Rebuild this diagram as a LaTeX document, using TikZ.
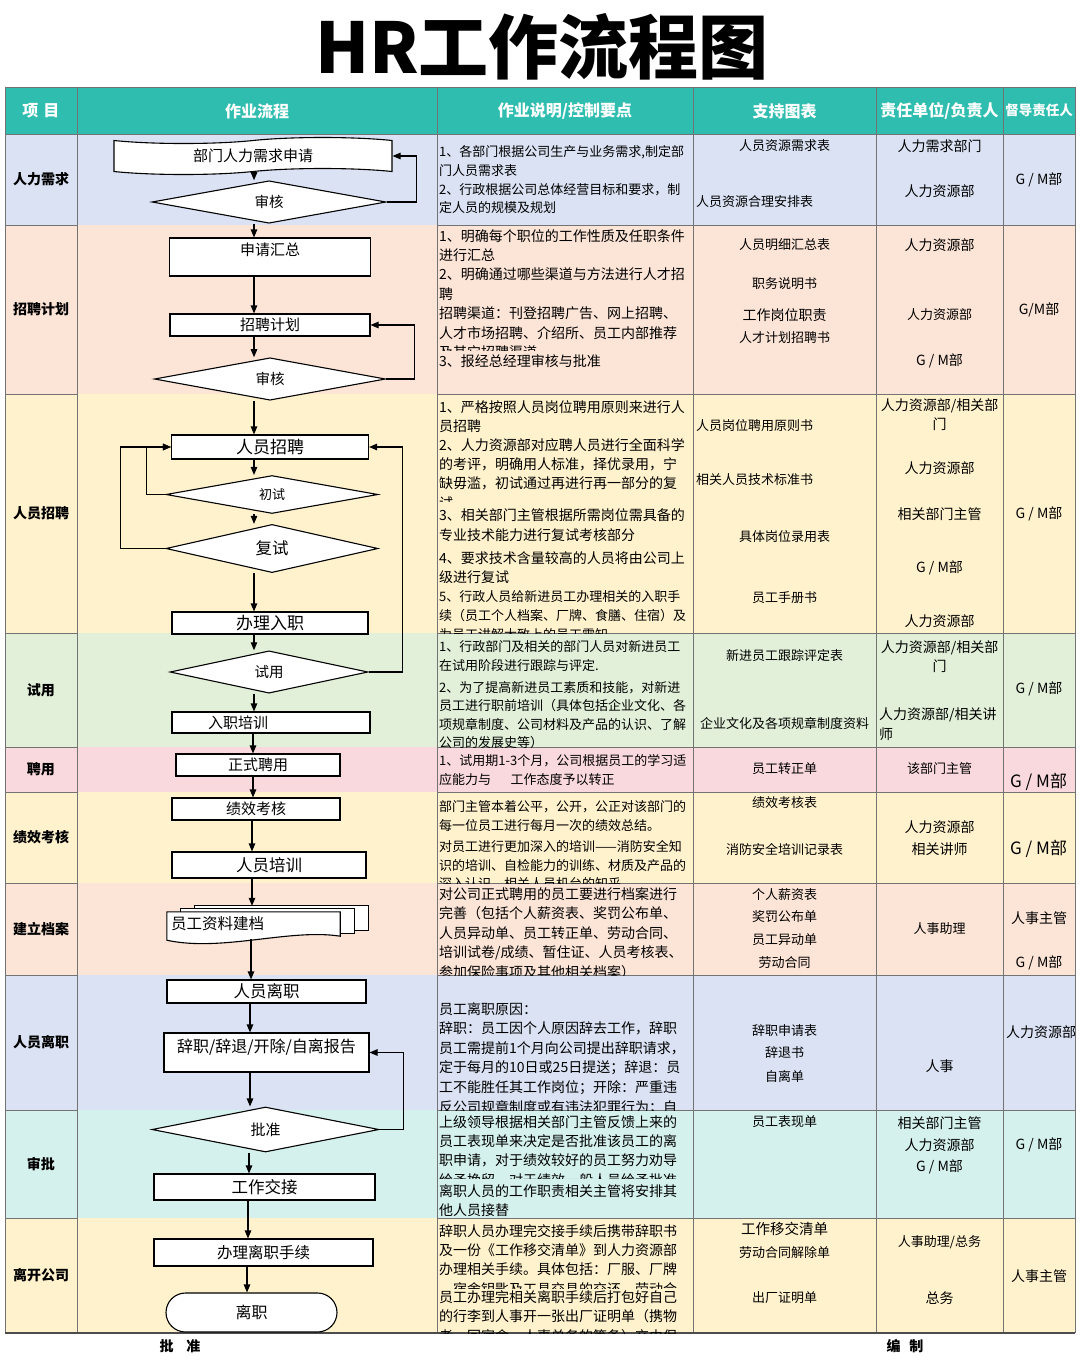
\documentclass[tikz,border=0pt]{standalone}
\usepackage{fontspec}
\setmainfont{Noto Sans CJK SC}
\usetikzlibrary{positioning}
\usetikzlibrary{arrows.meta}
\usetikzlibrary{shapes.geometric}
\usetikzlibrary{shapes.symbols}
\usetikzlibrary{shapes.misc}
\definecolor{headteal}{RGB}{47,189,176}
\definecolor{rowblue}{RGB}{218,226,243}
\definecolor{rowpeach}{RGB}{252,228,214}
\definecolor{rowyellow}{RGB}{255,242,204}
\definecolor{rowgreen}{RGB}{226,240,217}
\definecolor{rowpink}{RGB}{249,217,221}
\definecolor{rowcyan}{RGB}{213,241,237}
% clipped text block of the description column
\newcommand{\descblock}[6]{%
  \begin{scope}
    \clip (437,#1) rectangle (693,#2);
    \node[desc, font=\fontsize{#4}{#5}\selectfont] (d#3) at (439,{#3-#4/2}) {#6};
  \end{scope}}

\begin{document}
\begin{tikzpicture}[x=1pt, y=-1pt, every node/.style={inner sep=0pt},
    fsz/.style={font=\fontsize{#1}{#1}\selectfont},
    hd/.style={text=white, font=\bfseries\fontsize{16}{16}\selectfont},
    grid/.style={black!55, line width=0.8pt},
    box/.style={draw, fill=white, line width=1.1pt},
    dec/.style={diamond, draw, fill=white, line width=1.1pt},
    page/.style={draw, fill=white, line width=1.1pt},
    flow/.style={-{Triangle[length=8pt, width=6.5pt]}, line width=1.1pt},
    desc/.style={anchor=north west, align=left}]

    \useasboundingbox (0,0) rectangle (1080,1361);
    \node[font=\bfseries\fontsize{70}{70}\selectfont] (title) at (542,47) {HR工作流程图};

    % table
    \fill[headteal] (5,87) rectangle (1075,134);
    \foreach \ya/\yb/\c/\t [count=\i] in {134/225/rowblue/人力需求, 225/394/rowpeach/招聘计划,
        394/633/rowyellow/人员招聘, 633/747/rowgreen/试用, 747/792/rowpink/聘用,
        792/883/rowyellow/绩效考核, 883/975/rowpeach/建立档案, 975/1110/rowblue/人员离职,
        1110/1218/rowcyan/审批, 1218/1333/rowyellow/离开公司} {
        \fill[\c] (5,\ya) rectangle (1075,\yb);
        \node[font=\bfseries\fontsize{14}{14}\selectfont] (row\i) at (41,{(\ya+\yb)/2}) {\t};
    }
    \foreach \y in {225,394,633,747,792,883,975,1110,1218}
        \draw[grid] (5,\y) -- (77,\y) (437,\y) -- (1075,\y);
    \foreach \x in {5,77,437,693,876,1003,1075}
        \draw[grid] (\x,87) -- (\x,1333);
    \draw[grid] (5,87) -- (1075,87) (5,134) -- (1075,134);
    \draw[black!70, line width=2pt] (5,1333) -- (1075,1333);

    \node[hd] (h1) at (41,111) {项\hspace{5pt}目};
    \node[hd] (h2) at (257,111) {作业流程};
    \node[hd] (h3) at (565,111) {作业说明/控制要点};
    \node[hd] (h4) at (784.5,111) {支持图表};
    \node[hd] (h5) at (939.5,111) {责任单位/负责人};
    \node[hd, font=\bfseries\fontsize{13.5}{13.5}\selectfont] (h6) at (1039,110) {督导责任人};

    % flow chart
    \node[tape, draw, fill=white, line width=1.1pt, tape bend top=in and out, tape bend bottom=in and out,
        tape bend height=6pt, minimum width=278pt, minimum height=37pt, fsz=15] (need) at (253,156) {部门人力需求申请};
    \node[dec, minimum width=234pt, minimum height=37pt, fsz=14.5] (chk1) at (269,202) {审核};
    \node[box, minimum width=201pt, text height=17pt, text depth=21pt, fsz=15] (sum) at (270,257) {申请汇总};
    \node[box, minimum width=200pt, minimum height=22pt, fsz=15] (plan) at (270,325) {招聘计划};
    \node[dec, minimum width=231pt, minimum height=40pt, fsz=14.5] (chk2) at (270,379) {审核};
    \node[box, minimum width=197pt, minimum height=24pt, fsz=17] (hire) at (270,447) {人员招聘};
    \node[dec, minimum width=212pt, minimum height=31pt, fsz=13] (first) at (272,494.5) {初试};
    \node[dec, minimum width=212pt, minimum height=37pt, fsz=16.5] (second) at (272,548.5) {复试};
    \node[box, minimum width=196pt, minimum height=22pt, fsz=17] (onboard) at (270,623) {办理入职};
    \node[dec, minimum width=198pt, minimum height=34pt, fsz=14.5] (trial) at (269,672) {试用};
    \node[box, minimum width=198pt, minimum height=21pt, fsz=15] (train) at (271,722.5) {入职培训\hspace*{66pt}};
    \node[box, minimum width=164pt, minimum height=22pt, fsz=15] (formal) at (258,765) {正式聘用};
    \node[box, minimum width=168pt, minimum height=22pt, fsz=15] (perf) at (256,809) {绩效考核};
    \node[box, minimum width=194pt, minimum height=26pt, fsz=16.5] (staff) at (269,865) {人员培训};
    \node[minimum width=173pt, minimum height=24pt] (archive) at (253.5,924) {};
    \draw[page] ([shift={(28,-6)}]archive.north west) rectangle ([shift={(28,-6)}]archive.south east);
    \draw[page] ([shift={(14,-3)}]archive.north west) rectangle ([shift={(14,-3)}]archive.south east);
    \draw[page] (archive.north west) -- (archive.north east) -- (archive.south east)
        .. controls +(-50,-8) and +(55,12) .. ([yshift=-4pt]archive.south west) -- cycle;
    \node[fsz=15.5, anchor=west] (archtext) at ([xshift=4pt]archive.west) {员工资料建档};
    \node[box, minimum width=199pt, minimum height=23pt, fsz=16.5] (leave) at (266.5,991.5) {人员离职};
    \node[box, minimum width=205pt, text height=19pt, text depth=20pt, fsz=16] (report) at (266.5,1052.5) {辞职/辞退/开除/自离报告};
    \node[dec, minimum width=227pt, minimum height=45pt, fsz=15] (approve) at (265.5,1129.5) {批准};
    \node[box, minimum width=221pt, minimum height=26pt, fsz=16.5] (handover) at (264.5,1187) {工作交接};
    \node[box, minimum width=219pt, minimum height=27pt, fsz=15.5] (exitp) at (263.5,1252.5) {办理离职手续};
    \node[rounded rectangle, draw, fill=white, line width=1.1pt, minimum width=171pt, minimum height=39pt,
        fsz=16] (quit) at (251.5,1312.5) {离职};

    \foreach \a/\b/\x in {need/chk1/254, chk1/sum/254, sum/plan/254, plan/chk2/254, chk2/hire/254,
        hire/first/254, first/second/254, second/onboard/254, onboard/trial/254, trial/train/254,
        train/formal/253, formal/perf/253, perf/staff/252, leave/report/250, report/approve/250,
        approve/handover/249, handover/exitp/248, exitp/quit/247} {
        \coordinate (ax) at (\x,0);
        \draw[flow] (\a.south -| ax) -- (\b.north -| ax);
    }
    \coordinate (ax) at (252,0);
    \coordinate (archtop) at ([yshift=6pt]archive.north);
    \coordinate (archbot) at ([yshift=-3pt]archive.south);
    \draw[flow] (staff.south -| ax) -- (archtop -| ax);
    \coordinate (ax) at (251,0);
    \draw[flow] (archbot -| ax) -- (leave.north -| ax);

    \draw[flow] (chk1.east) -- ++(30,0) |- (need.east);
    \draw[flow] (chk2.east) -- ++(28,0) |- (plan.east);
    \draw[flow] (first.west) -- ++(-19,0) |- (hire.west);
    \draw[flow] (second.west) -- ++(-45,0) |- (hire.west);
    \draw[flow] (trial.east) -- ++(34,0) |- (hire.east);
    \draw[flow] (approve.east) -- ++(24,0) |- (report.east);

    % descriptions
    \descblock{134}{225}{152}{13}{18.7}{1、各部门根据公司生产与业务需求,制定部\\门人员需求表\\2、行政根据公司总体经营目标和要求，制\\定人员的规模及规划}
    \descblock{225}{350}{236}{14}{19.4}{1、明确每个职位的工作性质及任职条件\\进行汇总\\2、明确通过哪些渠道与方法进行人才招\\聘\\招聘渠道：刊登招聘广告、网上招聘、\\人才市场招聘、介绍所、员工内部推荐\\及其它招聘渠道}
    \descblock{350}{394}{361}{14}{19.4}{3、报经总经理审核与批准}
    \descblock{394}{501}{407}{14}{19.2}{1、严格按照人员岗位聘用原则来进行人\\员招聘\\2、人力资源部对应聘人员进行全面科学\\的考评，明确用人标准，择优录用，宁\\缺毋滥，初试通过再进行再一部分的复\\试}
    \descblock{501}{633}{515}{14}{20}{3、相关部门主管根据所需岗位需具备的\\专业技术能力进行复试考核部分}
    \descblock{501}{633}{558}{14}{19.5}{4、要求技术含量较高的人员将由公司上\\级进行复试}
    \descblock{501}{633}{597}{13}{18.7}{5、行政人员给新进员工办理相关的入职手\\续（员工个人档案、厂牌、食膳、住宿）及\\为员工讲解大致上的员工需知}
    \descblock{633}{747}{647}{13}{18.5}{1、行政部门及相关的部门人员对新进员工\\在试用阶段进行跟踪与评定.}
    \descblock{633}{747}{688}{13}{18.2}{2、为了提高新进员工素质和技能，对新进\\员工进行职前培训（具体包括企业文化、各\\项规章制度、公司材料及产品的认识、了解\\公司的发展史等）}
    \descblock{747}{792}{761}{13}{18.5}{1、试用期1-3个月，公司根据员工的学习适\\应能力与\hspace{1.5em}工作态度予以转正}
    \descblock{792}{883}{807}{13}{18.8}{部门主管本着公平，公开，公正对该部门的\\每一位员工进行每月一次的绩效总结。}
    \descblock{792}{883}{847}{13}{18.6}{对员工进行更加深入的培训——消防安全知\\识的培训、自检能力的训练、材质及产品的\\深入认识、相关人员机台的知乎}
    \descblock{883}{975}{894}{14}{19.5}{对公司正式聘用的员工要进行档案进行\\完善（包括个人薪资表、奖罚公布单、\\人员异动单、员工转正单、劳动合同、\\培训试卷/成绩、暂住证、人员考核表、\\参加保险事项及其他相关档案）}
    \descblock{975}{1110}{1009}{14}{19.6}{员工离职原因：\\辞职：员工因个人原因辞去工作，辞职\\员工需提前1个月向公司提出辞职请求，\\定于每月的10日或25日提送；辞退：员\\工不能胜任其工作岗位；开除：严重违\\反公司规章制度或有违法犯罪行为；自}
    \descblock{1110}{1178}{1122}{14}{19.4}{上级领导根据相关部门主管反馈上来的\\员工表现单来决定是否批准该员工的离\\职申请，对于绩效较好的员工努力劝导\\给予挽留，对于绩效一般人员给予批准}
    \descblock{1178}{1218}{1191}{14}{19.5}{离职人员的工作职责相关主管将安排其\\他人员接替}
    \descblock{1218}{1288}{1231}{14}{19.3}{辞职人员办理完交接手续后携带辞职书\\及一份《工作移交清单》到人力资源部\\办理相关手续。具体包括：厂服、厂牌\\、宿舍钥匙及工具交具的交还、劳动合}
    \descblock{1288}{1333}{1297}{14}{19.5}{员工办理完相关离职手续后打包好自己\\的行李到人事开一张出厂证明单（携物\\者、回宿舍、人事单务的等备）交由保}

    % support charts
    \foreach \y/\s/\t in {146/13/人员资源需求表, 245/13/人员明细汇总表, 284/13/职务说明书, 315/14/工作岗位职责,
        338/13/人才计划招聘书, 537/13/具体岗位录用表, 598/13/员工手册书, 656/13/新进员工跟踪评定表,
        723/13/企业文化及各项规章制度资料, 769/13/员工转正单, 803/13/绩效考核表, 849/13/消防安全培训记录表,
        895/13/个人薪资表, 917/13/奖罚公布单, 940/13/员工异动单, 963/13/劳动合同, 1031/13/辞职申请表,
        1053/13/辞退书, 1077/13/自离单, 1122/13/员工表现单, 1229/14.5/工作移交清单, 1253/13/劳动合同解除单,
        1298/13/出厂证明单}
        \node[fsz=\s] (s\y) at (784.5,\y) {\t};
    \node[fsz=13, anchor=west] (s202) at (696,202) {人员资源合理安排表};
    \node[fsz=13, anchor=west] (s426) at (696,426) {人员岗位聘用原则书};
    \node[fsz=13, anchor=west] (s480) at (696,480) {相关人员技术标准书};

    % responsible units
    \foreach \y/\s/\t in {146/14/人力需求部门, 191/14/人力资源部, 245/14/人力资源部, 315/13/人力资源部,
        361/14/{G / M部}, 468/14/人力资源部, 514/14/相关部门主管, 568/14/{G / M部}, 621/14/人力资源部,
        769/13/该部门主管, 827/14/人力资源部, 849/14/相关讲师, 929/13/人事助理, 1066/14/人事,
        1123/14/相关部门主管, 1145/14/人力资源部, 1167/14/{G / M部}, 1242/13/{人事助理/总务}, 1298/14/总务}
        \node[fsz=\s] (r\y) at (939.5,\y) {\t};
    \node[font=\fontsize{14}{19.5}\selectfont, align=center] (r405) at (939.5,414.5) {人力资源部/相关部\\门};
    \node[font=\fontsize{14}{19.5}\selectfont, align=center] (r647) at (939.5,656.5) {人力资源部/相关部\\门};
    \node[font=\fontsize{14}{19.5}\selectfont, align=left, anchor=west] (r714) at (879,724) {人力资源部/相关讲\\师};

    % supervisors
    \begin{scope}
        \clip (1003,134) rectangle (1075,1333);
        \foreach \y/\t in {180/{G / M部}, 310/{G/M部}, 514/{G / M部}, 689/{G / M部}, 918/人事主管,
            963/{G / M部}, 1145/{G / M部}, 1276/人事主管}
            \node[fsz=14] (g\y) at (1039,\y) {\t};
        \node[fsz=17, anchor=west] (g782) at (1010,782) {G / M部};
        \node[fsz=17, anchor=west] (g849) at (1010,849) {G / M部};
        \node[fsz=14, anchor=west] (g1032) at (1006,1032) {人力资源部};
    \end{scope}

    \node[font=\bfseries\fontsize{14}{14}\selectfont] (approver) at (180,1346) {批\hspace{13pt}准};
    \node[font=\bfseries\fontsize{14}{14}\selectfont] (editor) at (905,1346) {编\hspace{9pt}制};
\end{tikzpicture}
\end{document}
